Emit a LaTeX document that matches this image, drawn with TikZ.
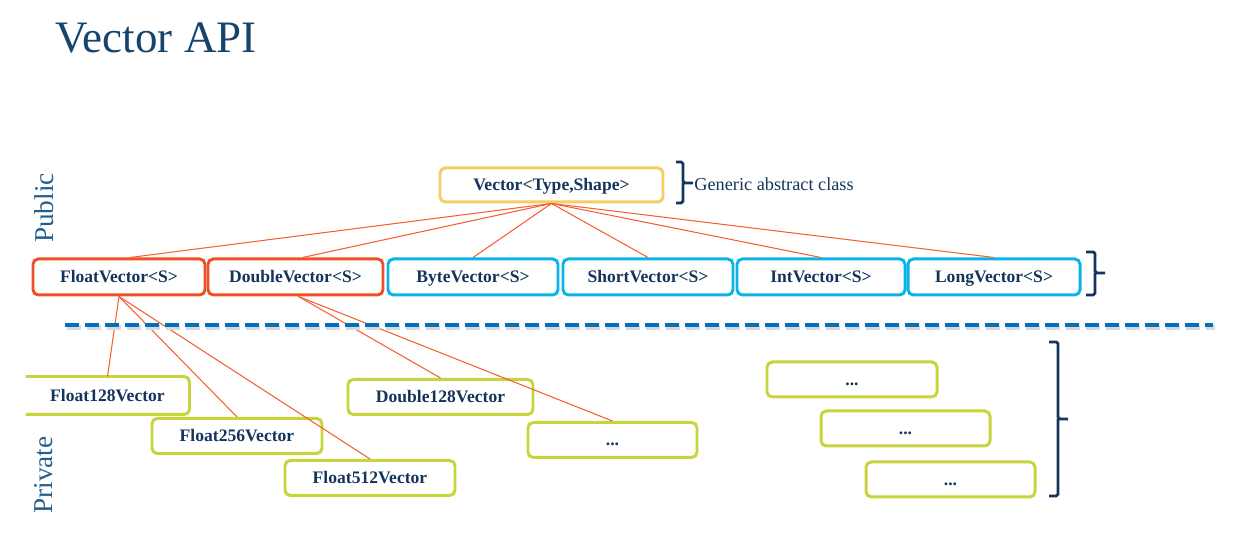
\documentclass[tikz,border=0pt]{standalone}
\usepackage{fontspec}
\setmainfont{Liberation Serif}
\definecolor{navy}{RGB}{20,52,92}
\definecolor{titleblue}{RGB}{22,68,108}
\definecolor{sideblue}{RGB}{35,95,140}
\definecolor{linered}{RGB}{245,95,50}
\definecolor{boxred}{RGB}{240,80,40}
\definecolor{boxcyan}{RGB}{10,180,230}
\definecolor{boxyellow}{RGB}{245,205,100}
\definecolor{boxlime}{RGB}{200,212,60}
\definecolor{dashblue}{RGB}{0,112,192}
\begin{document}
\begin{tikzpicture}[
	base/.style={rounded corners=3pt, line width=1.7pt, inner sep=0pt, minimum height=0.7cm, text height=7.5pt, text depth=1pt, text=navy, font=\fontsize{10}{12}\selectfont\bfseries},
	abstractbox/.style={base, draw=boxyellow, minimum height=0.68cm},
	redbox/.style={base, draw=boxred, minimum height=0.72cm},
	cyanbox/.style={base, draw=boxcyan, minimum height=0.72cm},
	limebox/.style={base, draw=boxlime},
	link/.style={linered, line width=0.6pt},
	bracket/.style={navy, line width=1.6pt, rounded corners=1pt},
	side/.style={rotate=90, text=sideblue, font=\fontsize{15.5}{18}\selectfont}]
	\useasboundingbox (0,0) rectangle (24.9,10.72);
	% title
	\node[anchor=base west, text=titleblue, font=\fontsize{25.6}{30}\selectfont, inner sep=0pt] (title) at (1.1,9.66) {Vector API};
	\node[side] (public) at (0.88,6.56) {Public};
	\node[side] (private) at (0.88,1.22) {Private};
	% abstract class
	\node[abstractbox, minimum width=4.46cm] (vec) at (11.03,7.02) {Vector<Type,Shape>};
	\draw[bracket] (13.52,7.48) -| (13.66,7.06) -- (13.86,7.06) (13.66,7.06) |- (13.52,6.66);
	\node[anchor=west, inner sep=0pt, text=navy, font=\fontsize{10.4}{12}\selectfont] (generic) at (13.88,7.04) {Generic abstract class};
	% public classes
	\node[redbox, minimum width=3.44cm] (float) at (2.38,5.18) {FloatVector<S>};
	\node[redbox, minimum width=3.5cm] (double) at (5.91,5.18) {DoubleVector<S>};
	\node[cyanbox, minimum width=3.4cm] (byte) at (9.46,5.18) {ByteVector<S>};
	\node[cyanbox, minimum width=3.4cm] (short) at (12.96,5.18) {ShortVector<S>};
	\node[cyanbox, minimum width=3.36cm] (int) at (16.42,5.18) {IntVector<S>};
	\node[cyanbox, minimum width=3.44cm] (long) at (19.88,5.18) {LongVector<S>};
	\draw[bracket] (21.72,5.68) -| (21.9,5.26) -- (22.1,5.26) (21.9,5.26) |- (21.72,4.82);
	% private classes
	\node[limebox, draw=none, minimum width=3.22cm] (f128) at (2.15,2.81) {Float128Vector};
	\draw[limebox, draw=boxlime] (f128.south west) -| (f128.north east) -- (f128.north west);
	\node[limebox, minimum width=3.4cm] (f256) at (4.74,2.0) {Float256Vector};
	\node[limebox, minimum width=3.4cm] (f512) at (7.4,1.16) {Float512Vector};
	\node[limebox, minimum width=3.7cm] (d128) at (8.81,2.78) {Double128Vector};
	\node[limebox, minimum width=3.38cm] (dmore) at (12.25,1.92) {...};
	\node[limebox, minimum width=3.4cm] (more1) at (17.04,3.13) {...};
	\node[limebox, minimum width=3.38cm] (more2) at (18.11,2.15) {...};
	\node[limebox, minimum width=3.38cm] (more3) at (19.01,1.13) {...};
	\draw[bracket] (20.98,3.88) -| (21.16,2.34) -- (21.36,2.34) (21.16,2.34) |- (20.98,0.8);
	% inheritance
	\foreach \n/\s in {float/0.22, double/0.14, byte/0, short/0, int/0, long/0}
		\draw[link] (vec.south) -- ([xshift=\s cm]\n.north);
	\foreach \n in {f128, f256, f512}
		\draw[link] (float.south) -- (\n.north);
	\foreach \n in {d128, dmore}
		\draw[link] ([xshift=0.06cm]double.south) -- (\n.north);
	% public / private divider
	\coordinate (divl) at (1.3,4.22);
	\coordinate (divr) at (24.26,4.22);
	\draw[black!15, line width=2.8pt, dash pattern=on 0.28cm off 0.12cm] ([shift={(0.03,-0.05)}]divl) -- ([shift={(0.03,-0.05)}]divr);
	\draw[dashblue, line width=2.8pt, dash pattern=on 0.28cm off 0.12cm] (divl) -- (divr);
\end{tikzpicture}
\end{document}
